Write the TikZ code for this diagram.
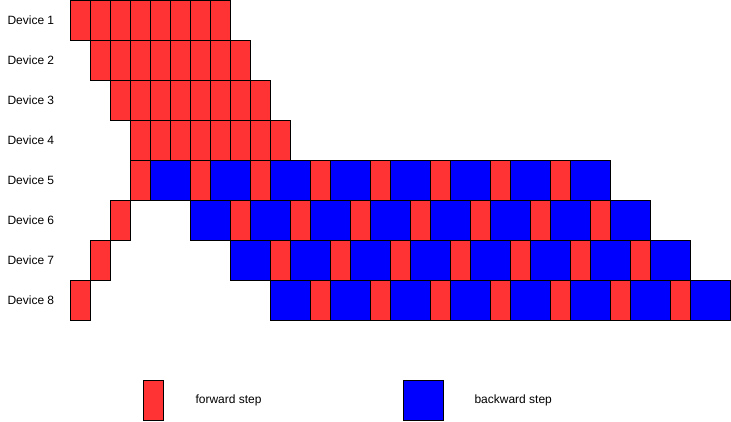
\documentclass[tikz,border=0pt]{standalone}
\usepackage{fontspec}
\setmainfont{Liberation Sans}
\usetikzlibrary{positioning}
\definecolor{fwdred}{HTML}{FF3333}
\definecolor{bwdblue}{HTML}{0000FF}

\begin{document}
\begin{tikzpicture}[x=0.75pt, y=-0.75pt, line width=0.75pt,
    every node/.append style={font=\fontsize{9pt}{11pt}\selectfont},
    fwd/.style={draw, fill=fwdred, minimum width=15pt, minimum height=30pt, inner sep=0pt, anchor=north west},
    bwd/.style={draw, fill=bwdblue, minimum width=30pt, minimum height=30pt, inner sep=0pt, anchor=north west},
    devlabel/.style={anchor=west, inner sep=0pt}]
    \useasboundingbox (0,0) rectangle (731,421);
    % device labels
    \foreach \d in {1,...,8}
      \node (dev\d) [devlabel] at (7,{(\d-1)*40+20}) {Device \d};
    % devices 1-4: forward steps only
    \foreach \d in {1,...,4}
      \foreach \k in {0,...,7}
        \node (f-\d-\k) [fwd] at ({70+20*(\d-1)+20*\k},{(\d-1)*40}) {};
    % devices 5-8: one forward step, then backward/forward in turn
    \foreach \d in {5,...,8} {
      \node (f-\d-s) [fwd] at ({130-20*(\d-5)},{(\d-1)*40}) {};
      \foreach \k in {0,...,7}
        \node (b-\d-\k) [bwd] at ({150+40*(\d-5)+60*\k},{(\d-1)*40}) {};
      \foreach \k in {0,...,6}
        \node (f-\d-\k) [fwd] at ({190+40*(\d-5)+60*\k},{(\d-1)*40}) {};
    }
    % legend
    \node (keyfwd) [fwd] at (143,380) {};
    \node (keyfwdtext) [anchor=west, inner sep=0pt] at (195,400) {forward step};
    \node (keybwd) [bwd] at (403,380) {};
    \node (keybwdtext) [anchor=west, inner sep=0pt] at (474,400) {backward step};
\end{tikzpicture}
\end{document}
